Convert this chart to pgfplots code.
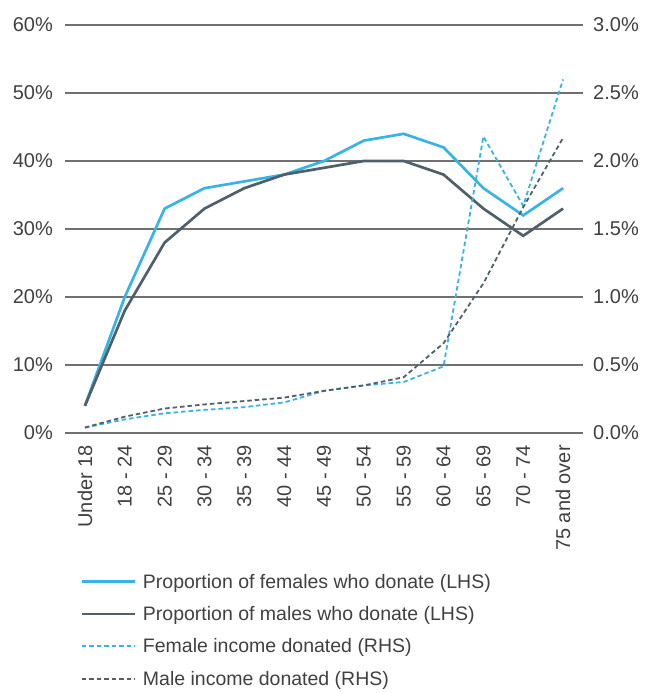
\documentclass[border=0pt]{standalone}
\usepackage{pgfplots}
\pgfplotsset{compat=1.18}
\usepackage{fontspec}
\setmainfont{Liberation Sans}
\definecolor{fblue}{HTML}{38B3E6}
\definecolor{mgray}{HTML}{50606B}
\definecolor{gridc}{HTML}{707070}
\definecolor{txt}{HTML}{404040}
\begin{document}
\begin{tikzpicture}
\begin{axis}[
  scale only axis, width=518pt, height=408pt,
  xmin=-0.5, xmax=12.5, ymin=0, ymax=60,
  xtick={0,...,12},
  xticklabels={Under 18,18 - 24,25 - 29,30 - 34,35 - 39,40 - 44,45 - 49,50 - 54,55 - 59,60 - 64,65 - 69,70 - 74,75 and over},
  ytick={0,10,...,60},
  yticklabel={\pgfmathprintnumber{\tick}\%},
  /pgf/number format/assume math mode=true,
  axis line style={draw=none},
  major tick length=0pt,
  ymajorgrids, grid style={gridc, line width=1.4pt},
  ticklabel style={font=\fontsize{20}{24}\selectfont, text=txt},
  xticklabel style={rotate=90, anchor=east, inner sep=0pt},
  xticklabel shift=12pt,
  yticklabel style={anchor=east, inner sep=0pt, xshift=-12pt},
  legend style={at={(axis description cs:0.029,-0.34)}, anchor=north west, draw=none, fill=none,
    font=\fontsize{19.5}{23.4}\selectfont, text=txt, row sep=12.7pt, inner sep=0pt, cells={anchor=west}},
  legend image code/.code={\draw[#1] (0pt,0pt) -- (53pt,0pt); \path (58pt,0pt);},
]
\coordinate (O) at (rel axis cs:0,0);
\addplot[fblue, line width=2.7pt] coordinates {(0,4)(1,20)(2,33)(3,36)(4,37)(5,38)(6,40)(7,43)(8,44)(9,42)(10,36)(11,32)(12,36)};
\addlegendentry{Proportion of females who donate (LHS)}
\addplot[mgray, line width=2.7pt] coordinates {(0,4)(1,18)(2,28)(3,33)(4,36)(5,38)(6,39)(7,40)(8,40)(9,38)(10,33)(11,29)(12,33)};
\addlegendentry{Proportion of males who donate (LHS)}
\addlegendimage{fblue, line width=1.8pt, dash pattern=on 4.5pt off 3pt}
\addlegendentry{Female income donated (RHS)}
\addlegendimage{mgray, line width=1.8pt, dash pattern=on 4.5pt off 3pt}
\addlegendentry{Male income donated (RHS)}
\end{axis}
\begin{axis}[
  scale only axis, width=518pt, height=408pt,
  xmin=-0.5, xmax=12.5, ymin=0, ymax=3,
  hide x axis,
  axis y line*=right,
  axis line style={draw=none},
  major tick length=0pt,
  ytick={0,0.5,...,3},
  yticklabel={\pgfmathprintnumber[fixed,fixed zerofill,precision=1]{\tick}\%},
  /pgf/number format/assume math mode=true,
  ticklabel style={font=\fontsize{20}{24}\selectfont, text=txt},
  yticklabel style={anchor=west, inner sep=0pt, xshift=10pt},
]
\addplot[fblue, line width=1.8pt, dash pattern=on 4.5pt off 3pt] coordinates {(0,0.04)(1,0.10)(2,0.145)(3,0.17)(4,0.19)(5,0.225)(6,0.31)(7,0.35)(8,0.375)(9,0.49)(10,2.18)(11,1.67)(12,2.6)};
\addplot[mgray, line width=1.8pt, dash pattern=on 4.5pt off 3pt] coordinates {(0,0.04)(1,0.12)(2,0.18)(3,0.21)(4,0.235)(5,0.26)(6,0.31)(7,0.35)(8,0.41)(9,0.66)(10,1.10)(11,1.66)(12,2.17)};
\end{axis}
\pgfresetboundingbox
\path[use as bounding box] (O) ++(-65pt,-260pt) rectangle ++(646pt,693pt);
\end{tikzpicture}
\end{document}
